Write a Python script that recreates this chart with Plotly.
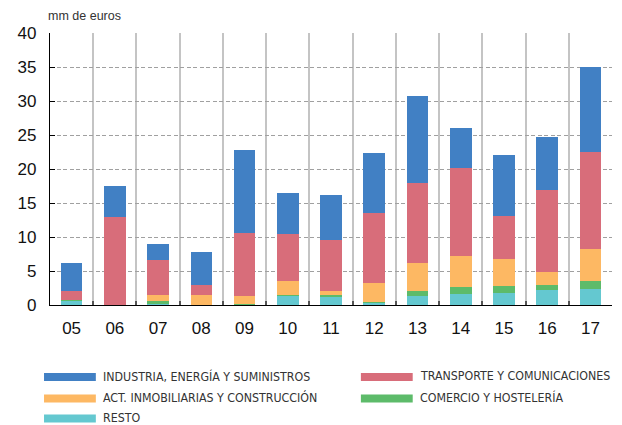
import plotly.graph_objects as go

years = ["05", "06", "07", "08", "09", "10", "11", "12", "13", "14", "15", "16", "17"]
resto = [0.65, 0.0, 0.1, 0.0, 0.0, 1.4, 1.2, 0.3, 1.35, 1.6, 1.75, 2.25, 2.35]
comercio = [0.1, 0.0, 0.5, 0.0, 0.2, 0.1, 0.2, 0.2, 0.75, 1.0, 1.0, 0.75, 1.2]
inmob = [0.05, 0.0, 0.9, 1.5, 1.15, 2.0, 0.6, 2.8, 4.1, 4.6, 4.0, 1.8, 4.75]
transporte = [1.25, 13.0, 5.1, 1.5, 9.3, 7.0, 7.6, 10.2, 11.7, 12.9, 6.3, 12.05, 14.25]
industria = [4.2, 4.5, 2.3, 4.8, 12.1, 5.9, 6.65, 8.85, 12.9, 5.95, 9.0, 7.85, 12.4]

series = [
    ("RESTO", resto, "#64C8D0"),
    ("COMERCIO Y HOSTELERÍA", comercio, "#5DBB6A"),
    ("ACT. INMOBILIARIAS Y CONSTRUCCIÓN", inmob, "#FDB863"),
    ("TRANSPORTE Y COMUNICACIONES", transporte, "#D86D7A"),
    ("INDUSTRIA, ENERGÍA Y SUMINISTROS", industria, "#4180C4"),
]

fig = go.Figure()
for name, vals, col in series:
    fig.add_trace(go.Bar(x=years, y=vals, name=name, marker=dict(color=col, line=dict(width=0)),
                         showlegend=False))

# page body has an 8px margin; figure sized/offset to compensate
OFF = 8
W, H = 622 - OFF, 425 - OFF
L, R, T, B = 48 - OFF, 10, 33 - OFF, 120
SANS = "Liberation Sans, Arial, Helvetica, sans-serif"
fig.update_layout(
    width=W, height=H, barmode="stack", bargap=0.5,
    margin=dict(l=L, r=R, t=T, b=B),
    plot_bgcolor="white", paper_bgcolor="white",
    font=dict(family=SANS, color="#111"),
)
fig.update_xaxes(
    type="category", tickson="boundaries", showgrid=True, gridcolor="#c4c4c4", gridwidth=1.5,
    showline=True, linecolor="#000", linewidth=1.2, ticks="inside", ticklen=4, tickcolor="#555",
    tickwidth=1.5, tickfont=dict(size=17), ticklabelstandoff=7,
)
fig.update_yaxes(
    range=[0, 40], dtick=5, showgrid=True, gridcolor="#a0a0a0", griddash="4px,2.5px", gridwidth=1,
    showline=True, linecolor="#000", linewidth=1.2, ticks="inside", ticklen=5, tickcolor="#000",
    tickfont=dict(size=17), ticklabelstandoff=9, zeroline=False,
)

plot_w = W - L - R
plot_h = H - T - B
def px_to_paper_x(px):
    return (px - OFF - L) / plot_w
def px_to_paper_y(py):
    return (H - B - (py - OFF)) / plot_h

fig.add_annotation(text="mm de euros", xref="paper", yref="paper",
                   x=px_to_paper_x(44), y=px_to_paper_y(16),
                   xanchor="left", yanchor="middle", showarrow=False,
                   font=dict(size=12.5, color="#333", family=SANS))

legend_items = [
    ("INDUSTRIA, ENERGÍA Y SUMINISTROS", "#4180C4", 42, 377),
    ("TRANSPORTE Y COMUNICACIONES", "#D86D7A", 360, 377),
    ("ACT. INMOBILIARIAS Y CONSTRUCCIÓN", "#FDB863", 42, 398.5),
    ("COMERCIO Y HOSTELERÍA", "#5DBB6A", 360, 398.5),
    ("RESTO", "#64C8D0", 42, 418.5),
]
for text, col, x0, yc in legend_items:
    fig.add_shape(type="rect", xref="paper", yref="paper",
                  x0=px_to_paper_x(x0), x1=px_to_paper_x(x0 + 52),
                  y0=px_to_paper_y(yc + 4), y1=px_to_paper_y(yc - 4),
                  fillcolor=col, line=dict(width=0))
    fig.add_annotation(text=text, xref="paper", yref="paper",
                       x=px_to_paper_x(x0 + 57), y=px_to_paper_y(yc - 1),
                       xanchor="left", yanchor="middle", showarrow=False,
                       font=dict(size=12.3, color="#333",
                                 family="DejaVu Sans Condensed, DejaVu Sans, sans-serif"))

fig.write_html("out.html")
